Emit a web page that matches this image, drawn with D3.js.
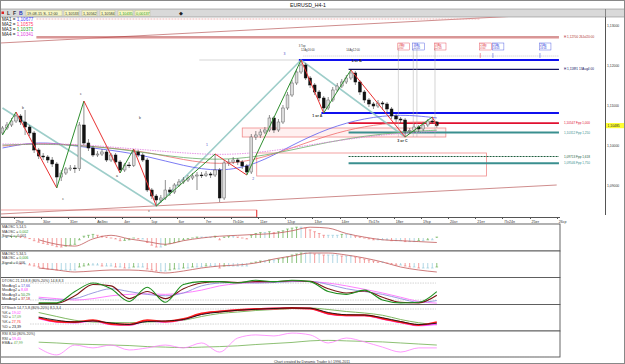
<!DOCTYPE html>
<html>
<head>
<meta charset="utf-8">
<script src="https://cdn.jsdelivr.net/npm/d3@7"></script>
<style>
  body { margin: 0; background: #fff; }
  svg text { font-family: "Liberation Sans", "DejaVu Sans", sans-serif; }
  .axis path, .axis line { stroke: #555; shape-rendering: crispEdges; }
</style>
</head>
<body>
<svg width="625" height="364"></svg>
<script>
'use strict';

// ---------- data ----------
var firstOpen = 1.10300;
var closes = [
  1.10425,1.10500,1.10600,1.10725,1.10575,1.10450,1.10300,1.09875,1.09725,1.09700,
  1.09625,1.09525,1.09200,1.09300,1.09400,1.09425,1.09410,1.10500,1.10050,1.09925,
  1.09750,1.09775,1.09825,1.09625,1.09750,1.09575,1.09375,1.09500,1.09490,1.09825,
  1.09750,1.09625,1.08875,1.08725,1.08625,1.08675,1.08875,1.08825,1.09000,1.09075,
  1.09125,1.09175,1.09225,1.09250,1.09240,1.09275,1.09250,1.09375,1.08675,1.09550,
  1.09575,1.09625,1.09575,1.09475,1.09325,1.10200,1.10250,1.10325,1.10375,1.10675,
  1.10375,1.10575,1.10925,1.11250,1.11550,1.11825,1.12000,1.11675,1.11500,1.11325,
  1.11175,1.10925,1.11125,1.11375,1.11475,1.11575,1.11675,1.11800,1.11575,1.11325,
  1.11125,1.11025,1.10975,1.11050,1.11025,1.10900,1.10725,1.10650,1.10625,1.10350,
  1.10360,1.10450,1.10400,1.10500,1.10600,1.10575,1.10485];
var highs = [
  1.10475,1.10575,1.10675,1.10825,1.10775,1.10875,1.10500,1.10350,1.09925,1.09800,
  1.09750,1.09700,1.09575,1.09375,1.09450,1.09500,1.09500,1.10575,1.11100,1.10150,
  1.09975,1.09850,1.09900,1.09875,1.09800,1.09800,1.09625,1.09550,1.09575,1.09900,
  1.09875,1.09800,1.09675,1.08925,1.08775,1.08750,1.09125,1.08950,1.09050,1.09150,
  1.09200,1.09250,1.09300,1.09325,1.09325,1.09350,1.09325,1.09775,1.09425,1.09625,
  1.09650,1.09700,1.09675,1.09625,1.09525,1.10275,1.10350,1.10400,1.10450,1.10750,
  1.10725,1.10650,1.11000,1.11325,1.11625,1.11900,1.12125,1.12050,1.11725,1.11550,
  1.11375,1.11225,1.11200,1.11450,1.11550,1.11650,1.11750,1.11875,1.11850,1.11625,
  1.11375,1.11175,1.11075,1.11125,1.11100,1.11075,1.10950,1.10775,1.10700,1.10675,
  1.10425,1.10525,1.10500,1.10575,1.10650,1.10700,1.10600];
var lows = [
  1.10250,1.10375,1.10450,1.10550,1.10500,1.10250,1.10225,1.09800,1.09650,1.09625,
  1.09550,1.09450,1.08925,1.09100,1.09250,1.09350,1.09300,1.09350,1.10000,1.09850,
  1.09700,1.09700,1.09725,1.09575,1.09575,1.09525,1.09300,1.09325,1.09425,1.09450,
  1.09700,1.09575,1.08825,1.08650,1.08475,1.08550,1.08625,1.08725,1.08775,1.08950,
  1.09025,1.09075,1.09125,1.08875,1.09175,1.09200,1.09175,1.09200,1.08575,1.08625,
  1.09475,1.09525,1.09500,1.09400,1.09250,1.09275,1.10125,1.10175,1.10275,1.10325,
  1.10300,1.10325,1.10525,1.10875,1.11200,1.11500,1.11775,1.11625,1.11425,1.11250,
  1.11100,1.10800,1.10875,1.11075,1.11325,1.11425,1.11525,1.11625,1.11500,1.11250,
  1.11050,1.10950,1.10900,1.10925,1.10875,1.10825,1.10650,1.10575,1.10550,1.10200,
  1.10275,1.10300,1.10325,1.10350,1.10450,1.10525,1.10435];

var dayLabels = ["29ср","30чт","31пт","Ав3пн","4вт","5ср","6чт","7пт","Пн10п","11вт","12ср",
                 "13чт","14пт","Пн17п","18вт","19ср","20чт","21пт","Пн24п","25вт","26ср"];
var priceTicks = [1.09, 1.10, 1.11, 1.12, 1.13];
var lastPrice = 1.10485;

// moving averages, read every 8 bars
var maBars = [0, 8, 16, 24, 32, 40, 48, 56, 64, 72, 80, 88, 96];
var ma1 = [1.09925,1.10100,1.09975,1.09875,1.09725,1.09475,1.09325,1.09500,1.10000,1.10425,1.10675,1.10775,1.10677];
var ma2 = [1.09975,1.10050,1.10000,1.09925,1.09825,1.09625,1.09500,1.09625,1.09925,1.10250,1.10475,1.10575,1.10575];
var ma3 = [1.10000,1.10025,1.10000,1.09925,1.09800,1.09675,1.09625,1.09700,1.09875,1.10075,1.10225,1.10325,1.10371];
var ma4 = [1.10025,1.10025,1.10025,1.09950,1.09875,1.09800,1.09750,1.09800,1.09925,1.10075,1.10200,1.10300,1.10341];

// swing zigzag and labels
var zzBars   = [0, 3, 12, 18, 26, 29, 34, 47, 54, 66, 71, 77, 89, 95, 96];
var zzPrices = [1.10250,1.10825,1.08925,1.11100,1.09300,1.09900,1.08475,1.09775,1.09250,1.12125,1.10800,1.11875,1.10200,1.10700,1.10485];
var waveText   = ["b", "c", "c", "b", "c", "a", "1", "2", "3", "1 or A", "2 or B", "3 or C"];
var waveBars   = [4.5, 17.3, 13.4, 30.4, 32.4, 25.3, 45.2, 55.4, 62.3, 69.6, 78.3, 88.4];
var wavePrices = [1.10925,1.11275,1.08650,1.10675,1.08350,1.09225,1.10000,1.09150,1.12275,1.10725,1.12100,1.10100];

// gann / trend lines
var gannBars   = [0, 34, 66, 89];
var gannPrices = [1.10925, 1.08475, 1.12125, 1.10200];
var channelBars  = [0, 123];
var channelUpper = [1.12550, 1.13275];
var channelLower = [1.08275, 1.09000];

// horizontal levels
var levelPrices = [1.13150, 1.12700, 1.12125, 1.11891, 1.10800, 1.10547, 1.10312, 1.09713, 1.09546];
var levelStart  = [8, 8, 66, 77, 71, 77, 77, 77, 77];
var levelEnd    = [106, 123.5, 123.5, 123.5, 123.5, 123.5, 123.5, 123.5, 123.5];
var levelLabels = ["", "H 1,12700 26Jul20:00", "", "H 1,11891 13Aug4:00", "",
                   "1,10547 Fpp 1,000", "1,10312 Fpp 1,250", "1,09713 Fpp 1,618", "1,09546 Fpp 1,750"];

// zones
var zoneBars   = [[53.5, 98.5], [56.7, 107.5], [0, 56.7]];
var zonePrices = [[1.10425, 1.10200], [1.09800, 1.09225], [1.08375, 1.0820]];

// time projections
var tpBars   = [88, 91.3, 92.1, 96.1, 106.1, 108.9, 119.3];
var tpLabels = ["18Ag0:00", "18Ag12:00", "", "19Ag12:00", "21Ag4:00", "21Ag16:00", "25Ag16:00"];

// oscillators
var maosc1 = [3,3,5,6,4,1,-2, -9,-14,-18,-21,-24,-29,-30,-27,-24,-21, -6,6,9,12,9,6,
  3,0,-3,-9,-8,-6,0,-3,-3, -15,-24,-30,-30,-24,-18, -15,-12,-6,-3,0,3,3,3,3,
  6,-6,3,6,6,3,0,-3, 9,15,18,18,21,18,21,24,30,33,36,36, 33,27,21,15,9,
  9,9,9,12,12,12, 6,3,0,-3,-6,-6,-6,-6,-9,-9,-9, -12,-12,-12,-9,-9,-6,-6,3];
var maosc2 = [-5,-5,0,0,-5,-5,-10, -15,-20,-25,-30,-30,-35,-35,-35,-35,-35, -20,-15,-10,-10,-10,-15,
  -15,-15,-20,-20,-25,-25,-20,-20,-20, -30,-35,-40,-40,-40,-35, -30,-30,-25,-25,-20,-20,-20,-15,-15,
  -15,-25,-15,-15,-15,-15,-15,-15, 0,5,10,10,15,15,20,25,30,40,45,50, 50,50,45,45,40,
  40,40,40,35,35,35, 30,25,20,15,10,5,5,0,-5,-10,-10, -15,-20,-20,-25,-25,-25,-25,-20];
var oscBars = [8,12,16,20,24,28,32,36,40,44,48,52,56,60,64,68,72,76,80,84,88,92,96];
var signal1 = [-6,-21,-27,-3,9,-3,-12,-21,-9,0,6,9,12,15,24,36,33,15,3,-6,-9,-12,-15];
var signal2 = [-25,-35,-45,-40,-35,-35,-40,-50,-40,-25,-15,-10,0,20,35,50,50,40,25,5,-20,-35,-45];

var dtGreen = [10,10,50,80,60,15,65,12,75,85,85,80,90,85,90,85,50,40,55,20,10,12,50];
var dtRed   = [8,8,35,75,70,25,50,25,60,80,85,82,85,85,88,86,60,45,52,30,12,10,37];
var dtBlue  = [25,20,25,45,60,50,40,35,45,70,80,82,80,82,85,86,75,60,50,40,25,12,18];
var dtMag   = [30,25,20,25,35,40,42,40,45,55,70,78,82,84,86,85,80,70,58,45,30,15,9];

var stKred   = [45,30,28,35,20,18,35,30,40,62,70,76,80,82,84,82,62,55,55,42,28,16,28];
var stDblack = [48,35,28,32,24,18,30,32,38,58,68,75,79,82,84,83,66,57,56,45,30,18,23];
var stKmag   = [42,28,25,33,18,16,33,28,38,60,70,76,80,82,84,82,60,54,54,40,26,14,19];
var stDgreen = [66,50,35,28,26,25,28,30,35,50,62,68,74,78,82,84,78,70,64,55,38,25,17];

var rsi    = [35,8,46,35,46,27,35,46,35,54,19,73,85,81,92,85,54,73,58,38,19,35,35];
var rsiEma = [57,54,50,48,46,44,40,38,36,38,40,43,48,52,56,62,64,62,60,58,54,50,46];

// ---------- drawing ----------
var svg = d3.select("svg");
var fmt = function(p) { return p.toFixed(5).replace(".", ","); };

svg.append("rect").attr("width", 625).attr("height", 364).attr("fill", "#fff");

var x = d3.scaleLinear().domain([0, 123]).range([0.2, 556.7]);
var cx = function(i) { return x(i + 0.5); };
var y = d3.scaleLinear().domain([1.082, 1.132]).range([217, 17]);

// title + toolbar
svg.append("text").attr("x", 308).attr("y", 6.5).attr("text-anchor", "middle")
  .attr("font-size", 5.2).attr("fill", "#111").text("EURUSD_H4-1");
svg.append("rect").attr("x", 0).attr("y", 9).attr("width", 625).attr("height", 8)
  .attr("fill", "#d9d9d9").attr("stroke", "#8a8a8a").attr("stroke-width", 0.6);
svg.append("rect").attr("x", 1.5).attr("y", 11.5).attr("width", 2.5).attr("height", 2.5).attr("fill", "#d22");
[["L", 7, "#333"], ["F", 13, "#333"], ["B", 19, "#2233bb"]].forEach(function(t) {
  svg.append("text").attr("x", t[1]).attr("y", 15).attr("font-size", 5).attr("font-weight", "bold")
    .attr("fill", t[2]).text(t[0]);
});
var tbText = ["19-08-15 S- 12:00", "1,10533", "1,10562", "1,10584", "1,10435", "0,00137"];
var tbX = [[26, 62], [64, 79], [82, 97], [100, 115], [118, 133], [135, 150]];
tbText.forEach(function(t, k) {
  svg.append("rect").attr("x", tbX[k][0]).attr("y", 10.3).attr("width", tbX[k][1] - tbX[k][0])
    .attr("height", 5.6).attr("fill", "#f6f6c4").attr("stroke", "#b8b890").attr("stroke-width", 0.4);
  svg.append("text").attr("x", tbX[k][0] + 1).attr("y", 14.6).attr("font-size", 3.8)
    .attr("fill", k >= 4 ? "#2a9a2a" : "#333").text(t);
});
svg.append("text").attr("x", 179).attr("y", 15).attr("font-size", 5).attr("fill", "#222").text("◆");
svg.append("line").attr("x1", 605.5).attr("x2", 605.5).attr("y1", 9).attr("y2", 17).attr("stroke", "#888");

// main price panel
svg.append("defs").append("clipPath").attr("id", "mainClip")
  .append("rect").attr("x", 0).attr("y", 17).attr("width", 605).attr("height", 200);
var g = svg.append("g").attr("clip-path", "url(#mainClip)");

// zones
zoneBars.forEach(function(b, k) {
  var p = zonePrices[k];
  g.append("rect").attr("x", x(b[0])).attr("width", x(b[1]) - x(b[0]))
    .attr("y", y(p[0])).attr("height", y(p[1]) - y(p[0]))
    .attr("fill", k === 0 ? "rgba(255,170,170,0.18)" : "none")
    .attr("stroke", "#f08a8a").attr("stroke-width", 0.8);
});
g.append("line").attr("x1", x(56.7)).attr("x2", x(56.7)).attr("y1", y(1.08375)).attr("y2", 217)
  .attr("stroke", "#e02020").attr("stroke-width", 0.8);

// channel lines
[channelUpper, channelLower].forEach(function(c) {
  g.append("line").attr("x1", x(channelBars[0])).attr("x2", x(channelBars[1]))
    .attr("y1", y(c[0])).attr("y2", y(c[1]))
    .attr("stroke", "#c98080").attr("stroke-width", 0.9);
});

// horizontal levels
var levelColor = ["#e89a9a", "#b03030", "#1010ee", "#101060", "#1010ee", "#e01030", "#3a8f8f", "#1e5e3e", "#3a8f8f"];
var levelWidth = [0.7, 1.2, 1.8, 1.2, 1.8, 1.8, 2, 1.2, 2];
levelPrices.forEach(function(p, k) {
  g.append("line").attr("x1", x(levelStart[k])).attr("x2", x(levelEnd[k]))
    .attr("y1", y(p)).attr("y2", y(p))
    .attr("stroke", levelColor[k]).attr("stroke-width", levelWidth[k])
    .attr("stroke-dasharray", (k === 0 || k === 7) ? "2,1" : null);
  if (levelLabels[k]) {
    svg.append("text").attr("x", 564).attr("y", y(p) + 1.1).attr("font-size", 3.1)
      .attr("fill", levelColor[k] === "#1010ee" ? "#333" : levelColor[k]).text(levelLabels[k]);
  }
});
g.append("line").attr("x1", x(8)).attr("x2", x(123.5)).attr("y1", y(1.12700) + 1.3).attr("y2", y(1.12700) + 1.3)
  .attr("stroke", "#e89a9a").attr("stroke-width", 0.7);

// time projections
g.append("line").attr("x1", x(67)).attr("x2", x(123.5)).attr("y1", 56).attr("y2", 56)
  .attr("stroke", "#999").attr("stroke-width", 0.5).attr("stroke-dasharray", "1,1");
tpBars.forEach(function(b, k) {
  var col = (k === 1 || k === 5 || k === 6) ? "#3344dd" : "#e03344";
  if (k < 4) {
    g.append("line").attr("x1", x(b)).attr("x2", x(b)).attr("y1", 48).attr("y2", y(1.10200))
      .attr("stroke", "#aaa").attr("stroke-width", 0.5);
  } else {
    g.append("line").attr("x1", x(b)).attr("x2", x(b)).attr("y1", 53).attr("y2", 58)
      .attr("stroke", col).attr("stroke-width", 0.5);
  }
  if (!tpLabels[k]) return;
  var tx = x(b) - 0.5;
  g.append("rect").attr("x", tx).attr("y", 43).attr("width", 11.5).attr("height", 7)
    .attr("fill", "none").attr("stroke", col).attr("stroke-width", 0.4);
  var t = g.append("text").attr("x", tx + 0.6).attr("y", 46).attr("font-size", 2.6).attr("fill", col);
  t.append("tspan").text(tpLabels[k].slice(0, 4));
  t.append("tspan").attr("x", tx + 0.6).attr("dy", 2.8).text(tpLabels[k].slice(4));
});
svg.append("text").attr("x", x(66)).attr("y", 47).attr("font-size", 2.8).attr("fill", "#444").text("3 Top");
svg.append("text").attr("x", x(66.5)).attr("y", 51).attr("font-size", 2.8).attr("fill", "#444").text("12Ag16:00");
svg.append("text").attr("x", x(76.5)).attr("y", 51).attr("font-size", 2.8).attr("fill", "#444").text("14Ag12:00");
g.append("line").attr("x1", x(44)).attr("x2", x(66)).attr("y1", y(1.12125)).attr("y2", y(1.12125))
  .attr("stroke", "#bbb").attr("stroke-width", 0.6);

// gann lines
var lineXY = d3.line().x(function(d) { return cx(d[0]); }).y(function(d) { return y(d[1]); });
g.append("path").attr("d", lineXY(d3.zip(gannBars, gannPrices)))
  .attr("fill", "none").attr("stroke", "#8cc4bf").attr("stroke-width", 1.6).attr("opacity", 0.85);

// moving averages
var maColors = ["#5b5bf0", "#f06a6a", "#6ab06a", "#e07ae0"];
[ma1, ma2, ma3, ma4].forEach(function(m, k) {
  var line = d3.line().curve(d3.curveBasis)
    .x(function(d) { return cx(d[0]); }).y(function(d) { return y(d[1]); });
  g.append("path").attr("d", line(d3.zip(maBars, m))).attr("fill", "none")
    .attr("stroke", maColors[k]).attr("stroke-width", 0.8)
    .attr("stroke-dasharray", k === 3 ? "1.5,1" : null);
});

// candles
var bars = closes.map(function(c, i) {
  return { i: i, o: i ? closes[i - 1] : firstOpen, c: c, h: highs[i], l: lows[i] };
});
g.selectAll("line.wick").data(bars).join("line").attr("class", "wick")
  .attr("x1", function(d) { return cx(d.i); }).attr("x2", function(d) { return cx(d.i); })
  .attr("y1", function(d) { return y(d.h); }).attr("y2", function(d) { return y(d.l); })
  .attr("stroke", "#444").attr("stroke-width", 0.6);
g.selectAll("rect.body").data(bars).join("rect").attr("class", "body")
  .attr("x", function(d) { return cx(d.i) - 1.4; }).attr("width", 2.8)
  .attr("y", function(d) { return y(Math.max(d.o, d.c)); })
  .attr("height", function(d) { return Math.max(0.8, Math.abs(y(d.o) - y(d.c))); })
  .attr("fill", function(d) { return d.c >= d.o ? "#dcdcdc" : "#111"; })
  .attr("stroke", function(d) { return d.c >= d.o ? "#666" : "#111"; }).attr("stroke-width", 0.5);

// zigzag
for (var k = 1; k < zzBars.length; k++) {
  var up = zzPrices[k] > zzPrices[k - 1];
  g.append("line").attr("x1", cx(zzBars[k - 1])).attr("y1", y(zzPrices[k - 1]))
    .attr("x2", cx(zzBars[k])).attr("y2", y(zzPrices[k]))
    .attr("stroke", up ? "#2f8f2f" : "#e83030").attr("stroke-width", 1);
}
waveText.forEach(function(t, k) {
  g.append("text").attr("x", cx(waveBars[k])).attr("y", y(wavePrices[k]) + 1.2)
    .attr("text-anchor", "middle").attr("font-size", t.length > 1 ? 3.6 : 3.4)
    .attr("fill", /^\d$/.test(t) ? "#4a4ac8" : "#333")
    .attr("font-weight", t.length > 1 ? "bold" : null).text(t);
});

// MA legend
var maVals = ["1,10677", "1,10575", "1,10371", "1,10341"];
var maLegendCol = ["#3a3aff", "#ff3a6a", "#22a022", "#e040e0"];
maVals.forEach(function(v, k) {
  var t = svg.append("text").attr("x", 2).attr("y", 21 + k * 5).attr("font-size", 4.6).attr("fill", "#222");
  t.append("tspan").text("MA" + (k + 1) + " = ");
  t.append("tspan").attr("fill", maLegendCol[k]).text(v);
});

// axes of main panel
var dayTicks = dayLabels.map(function(d, k) { return 3 + 6 * k; });
var xa = svg.append("g").attr("class", "axis").attr("transform", "translate(0,217)")
  .call(d3.axisBottom(x).tickValues(dayTicks)
    .tickFormat(function(d, k) { return dayLabels[k]; }).tickSize(2).tickSizeOuter(0));
xa.selectAll("text").attr("font-size", 3.6).attr("fill", "#333").attr("text-anchor", "start")
  .attr("x", 1.5).attr("y", 3).attr("dy", "0.71em");
xa.select(".domain").attr("d", "M0,0.5H560");

var ya = svg.append("g").attr("class", "axis").attr("transform", "translate(605.5,0)")
  .call(d3.axisRight(y).tickValues(priceTicks).tickFormat(fmt).tickSize(0).tickPadding(1.5));
ya.selectAll("text").attr("font-size", 3.4).attr("fill", "#333");
ya.select(".domain").attr("d", "M0,17V215");
svg.append("rect").attr("x", 606).attr("y", y(lastPrice) - 2.6).attr("width", 19).attr("height", 5.2).attr("fill", "#ffff33");
svg.append("text").attr("x", 607.5).attr("y", y(lastPrice) + 1.2).attr("font-size", 3.4).attr("fill", "#222").text(fmt(lastPrice));

// ---------- indicator panels ----------
function panelFrame(top, bottom) {
  svg.append("rect").attr("x", 0.5).attr("y", top).attr("width", 559.5).attr("height", bottom - top)
    .attr("fill", "#fff").attr("stroke", "#555").attr("stroke-width", 0.9);
}
function legend(lines, x0, y0, step) {
  lines.forEach(function(parts, k) {
    var t = svg.append("text").attr("x", x0).attr("y", y0 + k * step).attr("font-size", 3.6).attr("fill", "#333");
    parts.forEach(function(p) { t.append("tspan").attr("fill", p[1] || "#333").text(p[0]); });
  });
}
function guide(yv) {
  svg.append("line").attr("x1", 30).attr("x2", 436).attr("y1", yv).attr("y2", yv)
    .attr("stroke", "#aaa").attr("stroke-width", 0.5).attr("stroke-dasharray", "1.5,1");
}
function histogram(vals, sy) {
  var gh = svg.append("g");
  vals.forEach(function(v, i) {
    var prev = i ? vals[i - 1] : v;
    var col = v > prev ? "#5aa845" : (v < prev ? "#ee7070" : "#8fc6d8");
    gh.append("line").attr("x1", cx(i)).attr("x2", cx(i)).attr("y1", sy(0)).attr("y2", sy(v))
      .attr("stroke", col).attr("stroke-width", 0.7);
    gh.append("line").attr("x1", cx(i) - 1.3).attr("x2", cx(i) + 1.3).attr("y1", sy(v)).attr("y2", sy(v))
      .attr("stroke", col).attr("stroke-width", 0.6);
  });
}
function curve(vals, sy, color, width) {
  var line = d3.line().curve(d3.curveMonotoneX)
    .x(function(d) { return cx(d[0]); }).y(function(d) { return sy(d[1]); });
  svg.append("path").attr("d", line(d3.zip(oscBars, vals))).attr("fill", "none")
    .attr("stroke", color).attr("stroke-width", width);
}

// MAOSC 5,14,5
panelFrame(224, 251);
var s1 = d3.scaleLinear().domain([-40, 40]).range([250, 226]);
histogram(maosc1, s1);
curve(signal1, s1, "#c25a5a", 0.8);
legend([[["MAOSC 5,14,5"]], [["MAOSC = "], ["0,002", "#2a9a2a"]], [["Signal = -0,001"]]], 2, 228, 4.6);

// MAOSC 5,34,5
panelFrame(251, 277.5);
var s2 = d3.scaleLinear().domain([-70, 60]).range([277, 251]);
histogram(maosc2, s2);
curve(signal2, s2, "#c25a5a", 0.8);
legend([[["MAOSC 5,34,5"]], [["MAOSC = "], ["0,006", "#2a9a2a"]], [["Signal = 0,006"]]], 2, 254.6, 4.6);

// DTOSC
panelFrame(277.5, 304.5);
var s3 = d3.scaleLinear().domain([0, 100]).range([305.7, 277.4]);
guide(s3(80)); guide(s3(20));
curve(dtMag, s3, "#ff70ff", 0.9);
curve(dtBlue, s3, "#9090dd", 0.9);
curve(dtRed, s3, "#7a1515", 1.1);
curve(dtGreen, s3, "#1f8f1f", 1.1);
legend([[["DTOSC 21,13,8,8 (80%-20%) 14,8,8,3"]], [["MovAvg1 = "], ["17,66", "#5050d0"]],
  [["MovAvg2 = "], ["8,68", "#ff40ff"]], [["MovAvg3 = "], ["50,29", "#1f8f1f"]], [["MovAvg4 = "], ["37,18", "#b02020"]]],
  2, 282.3, 4.5);

// DTStoch
panelFrame(304.5, 331);
var s4 = d3.scaleLinear().domain([0, 100]).range([329, 304]);
guide(s4(80)); guide(s4(20));
curve(stDgreen, s4, "#70b050", 0.9);
curve(stKmag, s4, "#ff50ff", 1.6);
curve(stKred, s4, "#ff1a1a", 1.8);
curve(stDblack, s4, "#111", 0.9);
legend([[["DTStoch 14,7,5,8 (80%-20%) 8,5,3,4"]], [["%K = "], ["19,02", "#ff40ff"]],
  [["%D = "], ["17,09", "#5aa845"]], [["%K = "], ["27,76", "#ff2020"]], [["%D = "], ["23,39", "#111"]]],
  2, 309, 4.65);

// RSI
panelFrame(331, 357);
var s5 = d3.scaleLinear().domain([0, 100]).range([357, 331]);
curve(rsiEma, s5, "#70b050", 0.8);
curve(rsi, s5, "#ff80ff", 0.8);
legend([[["RSI 8,50 (80%-20%)"]], [["RSI = "], ["59,40", "#ff40ff"]], [["EMA = "], ["47,99", "#5aa845"]]],
  2, 335.3, 4.4);
svg.append("line").attr("x1", 0).attr("x2", 560).attr("y1", 357).attr("y2", 357)
  .attr("stroke", "#aaa").attr("stroke-width", 0.7).attr("stroke-dasharray", "1.5,1");

// footer + outer frame
svg.append("text").attr("x", 312).attr("y", 362.6).attr("text-anchor", "middle").attr("font-size", 3.6)
  .attr("fill", "#333").text("Chart created by Dynamic Trader (c) 1996-2011");
svg.append("rect").attr("x", 0.5).attr("y", 0.5).attr("width", 624).attr("height", 363)
  .attr("fill", "none").attr("stroke", "#888").attr("stroke-width", 1);
</script>
</body>
</html>
